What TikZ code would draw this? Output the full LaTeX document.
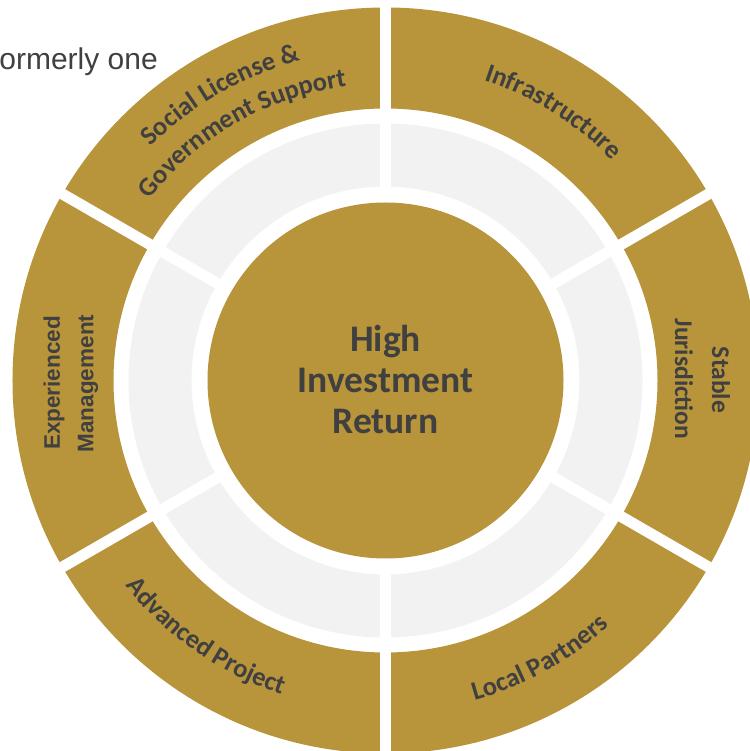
\documentclass[tikz,border=0pt]{standalone}
\usepackage{fontspec}
\setmainfont{Liberation Sans}
\newfontfamily\carl{Carlito}
\newfontfamily\arl{Liberation Sans}
\usetikzlibrary{decorations.text}
\definecolor{gold}{RGB}{184,148,58}
\definecolor{ringgrey}{RGB}{242,242,242}
\definecolor{txt}{RGB}{64,64,64}
\newcommand\arcfont{\carl\bfseries\fontsize{26.5}{31}\selectfont\color{txt}}
\begin{document}
\begin{tikzpicture}[x=1pt,y=1pt,
  arclabel/.style={decorate, decoration={text along path, text align=center, text={#1}}},
  vlabA/.style={font=\arl\bfseries\fontsize{22.5}{27}\selectfont, text=txt, inner sep=0pt},
  vlabB/.style={font=\carl\bfseries\fontsize{25.5}{30}\selectfont, text=txt, inner sep=0pt},
  gapline/.style={white, line width=11pt}
]
\useasboundingbox (-385.5,-370.5) rectangle (363.5,380.5);
\fill[white] (-385.5,-370.5) rectangle (363.5,380.5);
% rings
\fill[gold,even odd rule] (0,0) circle[radius=373pt] (0,0) circle[radius=272pt];
\fill[ringgrey,even odd rule] (0,0) circle[radius=257pt] (0,0) circle[radius=194pt];
\fill[gold] (0,0) circle[radius=178pt];
\foreach \a in {30,90,150,210,270,330} \draw[gapline] (\a:186pt) -- (\a:392pt);
% centre
\node[align=center, font=\carl\bfseries\fontsize{37.5}{41}\selectfont, text=txt] (hir) at (0,1) {High\\Investment\\Return};
% arc labels
\path[arclabel={|\arcfont|Social License {\&}}] (150:331pt) arc[start angle=150, end angle=90, radius=331pt];
\path[arclabel={|\arcfont|Government Support}] (150:297pt) arc[start angle=150, end angle=90, radius=297pt];
\path[arclabel={|\arcfont|Infrastructure}] (88:316pt) arc[start angle=88, end angle=28, radius=316pt];
\path[arclabel={|\arcfont|Advanced Project}] (-155:331pt) arc[start angle=-155, end angle=-95, radius=331pt];
\path[arclabel={|\arcfont|Local Partners}] (-91:332pt) arc[start angle=-91, end angle=-31, radius=332pt];
% straight labels
\node[vlabA, rotate=90] (exp) at (-331.5,-2.5) {Experienced};
\node[vlabA, rotate=90] (mgmt) at (-297.5,-3) {Management};
\node[vlabB, rotate=-90] (stab) at (335.5,0.5) {Stable};
\node[vlabB, rotate=-90] (jur) at (298.5,1.5) {Jurisdiction};
% top-left fragment
\node[anchor=base east, font=\arl\fontsize{30}{36}\selectfont, text=txt, inner sep=0pt] (frag) at (-227.5,311) {ormerly one};
\end{tikzpicture}
\end{document}
